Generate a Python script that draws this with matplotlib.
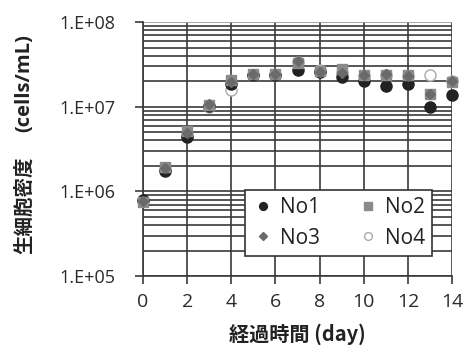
import matplotlib
matplotlib.use("Agg")
import matplotlib.pyplot as plt
from matplotlib.ticker import LogLocator, FixedLocator, FuncFormatter
import numpy as np

days = [0, 1, 2, 3, 4, 5, 6, 7, 8, 9, 10, 11, 12, 13, 14]
no1 = [7.9e5, 1.74e6, 4.4e6, 1.02e7, 1.85e7, 2.4e7, 2.4e7, 2.7e7, 2.6e7, 2.25e7, 2.0e7, 1.75e7, 1.85e7, 1.0e7, 1.37e7]
no2 = [7.5e5, 1.97e6, 5.2e6, 1.05e7, 2.05e7, 2.45e7, 2.45e7, 3.3e7, 2.65e7, 2.8e7, 2.35e7, 2.4e7, 2.35e7, 1.4e7, 1.95e7]
no3 = [7.8e5, 1.9e6, 4.9e6, 1.08e7, 1.95e7, 2.45e7, 2.45e7, 3.5e7, 2.6e7, 2.5e7, 2.35e7, 2.45e7, 2.3e7, 1.4e7, 2.0e7]
no4 = [7.8e5, 1.85e6, 4.7e6, 1.0e7, 1.6e7, 2.4e7, 2.4e7, 3.4e7, 2.75e7, 2.5e7, 2.3e7, 2.4e7, 2.3e7, 2.4e7, 2.0e7]
labels = ["No1", "No2", "No3", "No4"]
xticks = [0, 2, 4, 6, 8, 10, 12, 14]
yticks = [1e5, 1e6, 1e7, 1e8]
ylabel_jp = "生細胞密度"
ylabel_unit = "(cells/mL)"
xlabel = "経過時間 (day)"

plt.rcParams['font.family'] = ['Open Sans', 'Noto Sans CJK JP', 'DejaVu Sans']

fig = plt.figure(figsize=(4.66, 3.46), dpi=100)
ax = fig.add_axes([0.307, 0.202, 0.663, 0.734])
ax.set_yscale('log')
ax.set_xlim(0, 14)
ax.set_ylim(1e5, 1e8)

grid_c = '#3a3a3a'
ax.xaxis.set_major_locator(FixedLocator(xticks))
ax.yaxis.set_major_locator(FixedLocator(yticks))
ax.yaxis.set_minor_locator(LogLocator(base=10, subs=np.arange(2, 10)))
ax.yaxis.set_major_formatter(FuncFormatter(lambda v, p: "1.E+%02d" % int(round(np.log10(v)))))
ax.yaxis.set_minor_formatter(FuncFormatter(lambda v, p: ""))
ax.grid(True, which='both', axis='y', color=grid_c, lw=1.2)
ax.grid(True, which='major', axis='x', color=grid_c, lw=1.2)
ax.set_axisbelow(True)
for s in ['top', 'right']:
    ax.spines[s].set_visible(False)
ax.spines['left'].set_color(grid_c)
ax.spines['bottom'].set_color(grid_c)
ax.spines['left'].set_linewidth(1.2)
ax.spines['bottom'].set_linewidth(1.2)
ax.tick_params(axis='y', which='major', direction='out', length=6, width=1.2, color=grid_c,
               labelsize=13, labelcolor='#2a2a2a', pad=14)
ax.tick_params(axis='x', which='major', direction='out', length=6, width=1.2, color=grid_c,
               labelsize=14, labelcolor='#2a2a2a', pad=6)
ax.tick_params(axis='y', which='minor', length=0)
# top gridline (1E+08) appears lighter in the reference
for gl, loc in zip(ax.yaxis.get_gridlines(), ax.yaxis.get_majorticklocs()):
    if loc >= 1e8:
        gl.set_color('#9a9a9a')

kw = dict(ls='none', clip_on=False)
h4, = ax.plot(days, no4, marker='o', ms=8, mfc='white', mec='#aaaaaa', mew=1.0, label=labels[3], zorder=2, **kw)
h1, = ax.plot(days, no1, marker='o', ms=8, color='#222222', mec='#222222', label=labels[0], zorder=3, **kw)
h2, = ax.plot(days, no2, marker='s', ms=7.5, color='#8a8a8a', mec='#8a8a8a', label=labels[1], zorder=4, **kw)
h3, = ax.plot(days, no3, marker='D', ms=5.5, color='#6a6a6a', mec='#6a6a6a', label=labels[2], zorder=5, **kw)

leg = ax.legend([h1, h3, h2, h4], [labels[0], labels[2], labels[1], labels[3]],
                ncol=2, loc='lower right', bbox_to_anchor=(0.935, 0.079), borderaxespad=0,
                fontsize=15, frameon=True, fancybox=False, edgecolor='#333333', framealpha=1,
                handletextpad=0.3, columnspacing=1.8, borderpad=0.35, labelspacing=0.45,
                markerscale=0.7, handlelength=1.0)
leg.get_frame().set_linewidth(1.2)
for t in leg.get_texts():
    t.set_color('#222222')

ax.set_xlabel(xlabel, fontsize=14.5, fontweight='bold', color='#222222',
              family=['Noto Sans CJK JP', 'DejaVu Sans'], labelpad=9)
fig.text(0.052, 1 - 205.5 / 346, ylabel_jp, rotation=90, ha='center', va='center',
         fontsize=14, fontweight='bold', color='#222222', family=['Noto Sans CJK JP', 'DejaVu Sans'])
fig.text(0.052, 1 - 83.5 / 346, ylabel_unit, rotation=90, ha='center', va='center',
         fontsize=14.5, fontweight='bold', color='#222222', family=['Open Sans', 'DejaVu Sans'])

fig.savefig("out.png", dpi=100)
